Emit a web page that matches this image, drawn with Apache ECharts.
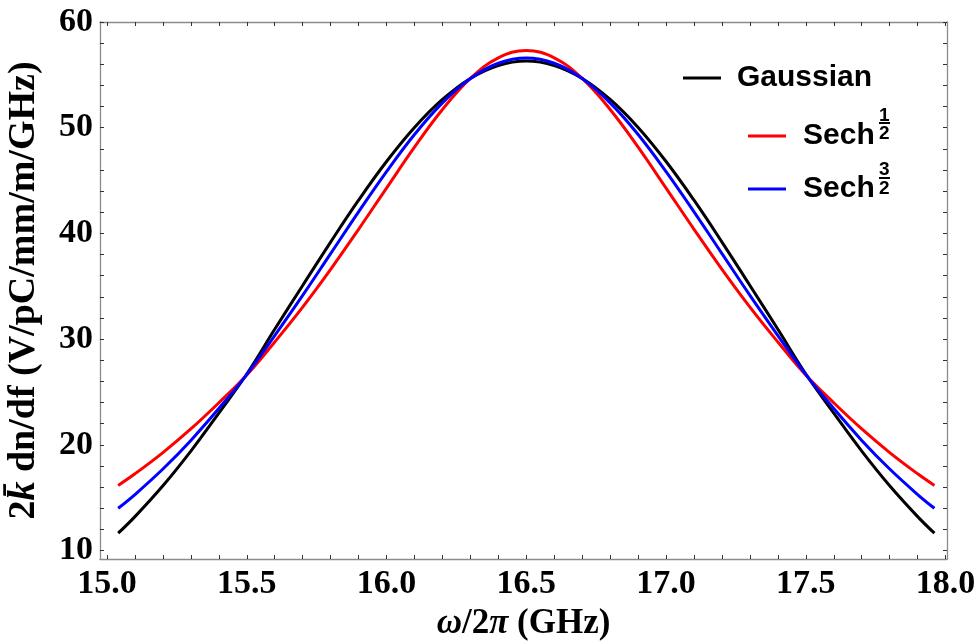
<!DOCTYPE html>
<html>
<head>
<meta charset="utf-8">
<script src="https://cdn.jsdelivr.net/npm/echarts@6/dist/echarts.min.js"></script>
<style>
  html, body { margin: 0; padding: 0; background: #fff; }
  #container { width: 975px; height: 641px; }
</style>
</head>
<body>
<div id="container"></div>
<script>
// 频率 (GHz)
const freq = [15.04, 15.1, 15.2, 15.3, 15.4, 15.5, 15.6, 15.7, 15.8, 15.9, 16.0, 16.1, 16.2, 16.3, 16.4, 16.5,
  16.6, 16.7, 16.8, 16.9, 17.0, 17.1, 17.2, 17.3, 17.4, 17.5, 17.6, 17.7, 17.8, 17.9, 17.96];
// 各曲线的数值
const gaussian = [11.64, 13.21, 16.13, 19.41, 23.00, 26.70, 30.93, 35.07, 39.18, 43.14, 46.80, 50.02, 52.67, 54.66, 55.88, 56.30,
  55.88, 54.66, 52.67, 50.02, 46.80, 43.14, 39.18, 35.07, 30.93, 26.70, 23.00, 19.41, 16.13, 13.21, 11.64];
const sechHalf = [16.16, 17.26, 19.27, 21.50, 23.97, 26.60, 29.73, 33.03, 36.60, 40.39, 44.29, 48.16, 51.72, 54.66, 56.61, 57.30,
  56.61, 54.66, 51.72, 48.16, 44.29, 40.39, 36.60, 33.03, 29.73, 26.60, 23.97, 21.50, 19.27, 17.26, 16.16];
const sechThreeHalf = [14.00, 15.30, 17.71, 20.42, 23.43, 26.65, 30.34, 34.14, 38.09, 42.04, 45.85, 49.36, 52.35, 54.65, 56.10, 56.60,
  56.10, 54.65, 52.35, 49.36, 45.85, 42.04, 38.09, 34.14, 30.34, 26.65, 23.43, 20.42, 17.71, 15.30, 14.00];

// 刻度
const xLabels = [15.0, 15.5, 16.0, 16.5, 17.0, 17.5, 18.0];
const xTicks = [15.0, 15.1, 15.2, 15.3, 15.4, 15.5, 15.6, 15.7, 15.8, 15.9, 16.0, 16.1, 16.2, 16.3, 16.4, 16.5,
  16.6, 16.7, 16.8, 16.9, 17.0, 17.1, 17.2, 17.3, 17.4, 17.5, 17.6, 17.7, 17.8, 17.9, 18.0];
const yLabels = [10, 20, 30, 40, 50, 60];
const yTicks = [10, 12, 14, 16, 18, 20, 22, 24, 26, 28, 30, 32, 34, 36, 38, 40, 42, 44, 46, 48, 50, 52, 54, 56, 58, 60];

const names = ['Gaussian', 'Sech^(1/2)', 'Sech^(3/2)'];
const colors = ['#000000', '#ff0000', '#0000ff'];

const serif = 'Liberation Serif';
const sans = 'Liberation Sans';

function pairs(ys) {
  return freq.map((f, i) => [f, ys[i]]);
}

function frameAxis(pos, ticks, labels, min, max) {
  return {
    type: 'value',
    position: pos,
    min: min,
    max: max,
    axisLine: { show: true, onZero: false, lineStyle: { color: '#8c8c8c', width: 1.3 } },
    axisTick: { show: true, inside: true, length: 4, customValues: ticks, lineStyle: { color: '#333', width: 1 } },
    axisLabel: labels ? {
      show: true,
      customValues: labels,
      fontFamily: serif,
      fontWeight: 'bold',
      fontSize: 34,
      color: '#000',
      margin: (pos === 'bottom') ? 8 : 7,
      formatter: (v) => (pos === 'bottom') ? v.toFixed(1) : String(v)
    } : { show: false },
    splitLine: { show: false }
  };
}

const dom = document.getElementById('container');
const myChart = echarts.init(dom, null, { renderer: 'canvas' });

const xBottom = frameAxis('bottom', xTicks, xLabels, 14.975, 18.005);
xBottom.name = '{i|ω}/2{i|π} (GHz)';
xBottom.nameLocation = 'middle';
xBottom.nameGap = 47;
xBottom.nameTextStyle = {
  fontFamily: serif, fontWeight: 'bold', fontSize: 35, color: '#000',
  rich: { i: { fontFamily: serif, fontWeight: 'bold', fontStyle: 'italic', fontSize: 35, color: '#000' } }
};

const yLeft = frameAxis('left', yTicks, yLabels, 9.2, 60);
yLeft.name = '2{k|k̄} dn/df (V/pC/mm/m/GHz)';
yLeft.nameLocation = 'middle';
yLeft.nameRotate = 90;
yLeft.nameGap = 57;
yLeft.nameTextStyle = {
  fontFamily: serif, fontWeight: 'bold', fontSize: 38, color: '#000',
  rich: { k: { fontFamily: serif, fontWeight: 'bold', fontStyle: 'italic', fontSize: 38, color: '#000' } }
};

function legendAt(name, left, top, pad) {
  return {
    data: [name],
    left: left,
    top: top,
    orient: 'horizontal',
    icon: 'rect',
    itemWidth: 38,
    itemHeight: 3,
    selectedMode: false,
    formatter: (n) => n === 'Gaussian' ? 'Gaussian' : 'Sech',
    textStyle: { fontFamily: sans, fontWeight: 'bold', fontSize: 30, color: '#000', padding: [0, 0, 0, pad] }
  };
}

function fraction(num, x, yNum, yBar, yDen) {
  const st = { fontFamily: sans, fontWeight: 'bold', fontSize: 19, fill: '#000', align: 'left', verticalAlign: 'top' };
  return [
    { type: 'text', left: x - 5, top: yNum - 9, style: Object.assign({ text: num }, st) },
    { type: 'rect', shape: { x: x - 5, y: yBar - 1, width: 11, height: 2 }, style: { fill: '#000' } },
    { type: 'text', left: x - 5, top: yDen - 9, style: Object.assign({ text: '2' }, st) }
  ];
}

const option = {
  animation: false,
  backgroundColor: '#fff',
  grid: { left: 100, right: 28, top: 22, bottom: 82, containLabel: false, outerBoundsMode: 'none' },
  xAxis: [xBottom, frameAxis('top', xTicks, null, 14.975, 18.005)],
  yAxis: [yLeft, frameAxis('right', yTicks, null, 9.2, 60)],
  legend: [
    legendAt(names[0], 678, 58, 11),
    legendAt(names[1], 743, 116, 12),
    legendAt(names[2], 743, 169, 12)
  ],
  graphic: [].concat(
    fraction('1', 884, 115, 123, 133),
    fraction('3', 884, 169, 178, 188)
  ),
  series: [gaussian, sechHalf, sechThreeHalf].map((ys, i) => ({
    name: names[i],
    type: 'line',
    data: pairs(ys),
    smooth: 0.4,
    showSymbol: false,
    symbol: 'none',
    color: colors[i],
    lineStyle: { color: colors[i], width: 3 }
  }))
};

myChart.setOption(option, true);
</script>
</body>
</html>
